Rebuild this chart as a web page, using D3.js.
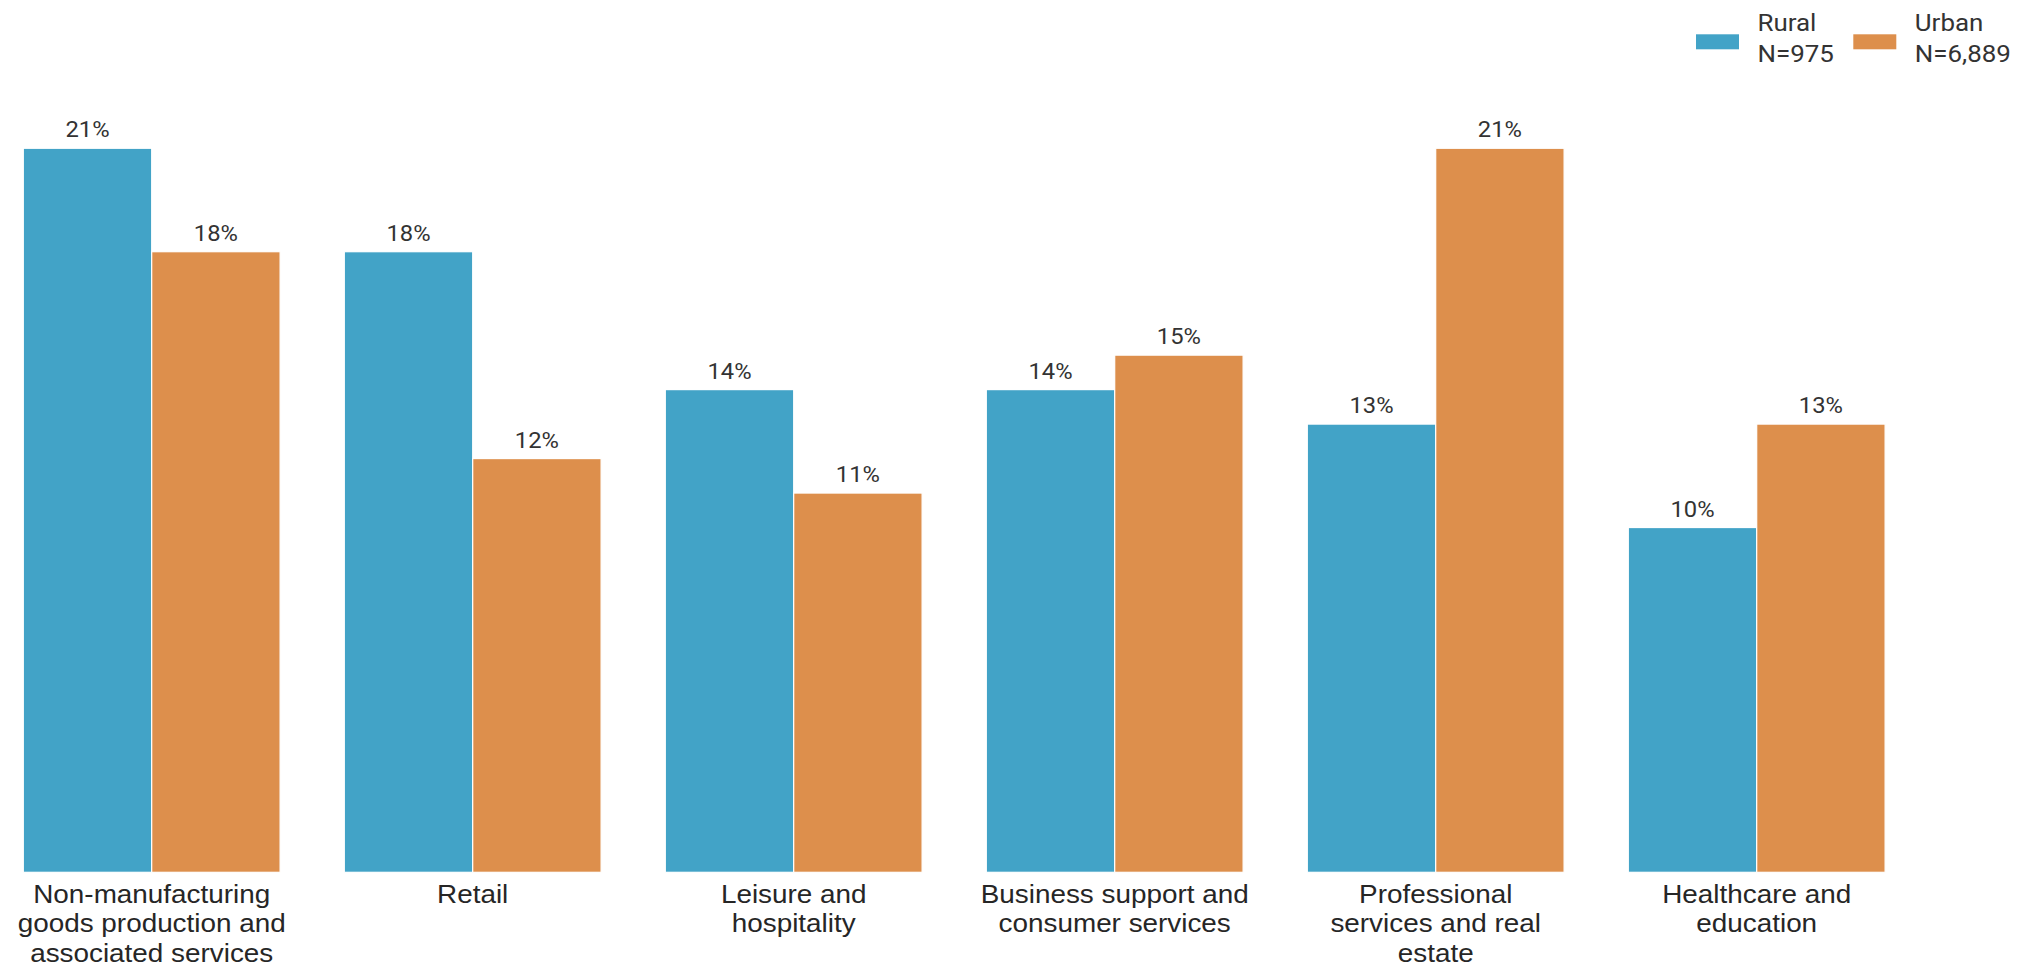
<!DOCTYPE html>
<html>
<head>
<meta charset="utf-8">
<script src="https://cdn.jsdelivr.net/npm/d3@7"></script>
<style>
  html, body { margin: 0; padding: 0; background: #ffffff; }
  svg { display: block; }
</style>
</head>
<body>
<svg id="chart" width="2037" height="972"></svg>
<script>
const categories = [
  "Non-manufacturing goods production and associated services",
  "Retail",
  "Leisure and hospitality",
  "Business support and consumer services",
  "Professional services and real estate",
  "Healthcare and education"
];
const categoryLines = [
  ["Non-manufacturing", "goods production and", "associated services"],
  ["Retail"],
  ["Leisure and", "hospitality"],
  ["Business support and", "consumer services"],
  ["Professional", "services and real", "estate"],
  ["Healthcare and", "education"]
];
const seriesNames = ["Rural", "Urban"];
const seriesN = ["N=975", "N=6,889"];
const ruralValues = [21, 18, 14, 14, 13, 10];
const urbanValues = [18, 12, 11, 15, 21, 13];
const colors = ["#42a3c7", "#dd8f4c"];

const svg = d3.select("#chart");
const textColor = "#333333";
const sx = 1.08; // horizontal text stretch seen in reference

const x0 = d3.scaleBand()
  .domain(categories)
  .range([-8.8, 1917.2])
  .paddingInner(0.2)
  .paddingOuter(0.1);
const x1 = d3.scaleBand()
  .domain(seriesNames)
  .range([0, x0.bandwidth()]);
const y = d3.scaleLinear()
  .domain([0, 22])
  .range([872.3, 113.8]);

const data = categories.map((c, i) => ({
  cat: c,
  vals: [ruralValues[i], urbanValues[i]]
}));

const groups = svg.append("g").selectAll("g")
  .data(data)
  .join("g")
  .attr("transform", d => `translate(${x0(d.cat)},0)`);

groups.selectAll("rect")
  .data(d => d.vals.map((v, j) => ({ s: seriesNames[j], v, j })))
  .join("rect")
  .attr("x", d => x1(d.s))
  .attr("y", d => y(d.v))
  .attr("width", x1.bandwidth())
  .attr("height", d => y(0) - y(d.v))
  .attr("fill", d => colors[d.j])
  .attr("stroke", "#ffffff")
  .attr("stroke-width", 1.2);

groups.selectAll("text.val")
  .data(d => d.vals.map((v, j) => ({ s: seriesNames[j], v, j })))
  .join("text")
  .attr("class", "val")
  .attr("transform", d => `translate(${x1(d.s) + x1.bandwidth() / 2},${y(d.v) - 11}) scale(${sx},1)`)
  .attr("text-anchor", "middle")
  .attr("font-family", "Roboto, sans-serif")
  .attr("font-size", 22)
  .attr("fill", textColor)
  .text(d => d.v + "%");

// category labels
const labelG = svg.append("g");
categories.forEach((c, i) => {
  const cx = x0(c) + x0.bandwidth() / 2;
  categoryLines[i].forEach((line, k) => {
    labelG.append("text")
      .attr("transform", `translate(${cx},${902.8 + k * 29.6}) scale(${sx},1)`)
      .attr("text-anchor", "middle")
      .attr("font-family", "'Liberation Sans', Arial, sans-serif")
      .attr("font-size", 25.8)
      .attr("fill", "#262626")
      .text(line);
  });
});

// legend
const legendX = [1696, 1853.3];
const legend = svg.append("g");
seriesNames.forEach((s, j) => {
  legend.append("rect")
    .attr("x", legendX[j])
    .attr("y", 34.3)
    .attr("width", 43)
    .attr("height", 15)
    .attr("fill", colors[j]);
  legend.append("text")
    .attr("transform", `translate(${legendX[j] + 61.5},30.7) scale(${sx},1)`)
    .attr("font-family", "Roboto, sans-serif")
    .attr("font-size", 24)
    .attr("fill", textColor)
    .text(s);
  legend.append("text")
    .attr("transform", `translate(${legendX[j] + 61.5},62.3) scale(${sx},1)`)
    .attr("font-family", "Roboto, sans-serif")
    .attr("font-size", 24)
    .attr("fill", textColor)
    .text(seriesN[j]);
});
</script>
</body>
</html>
